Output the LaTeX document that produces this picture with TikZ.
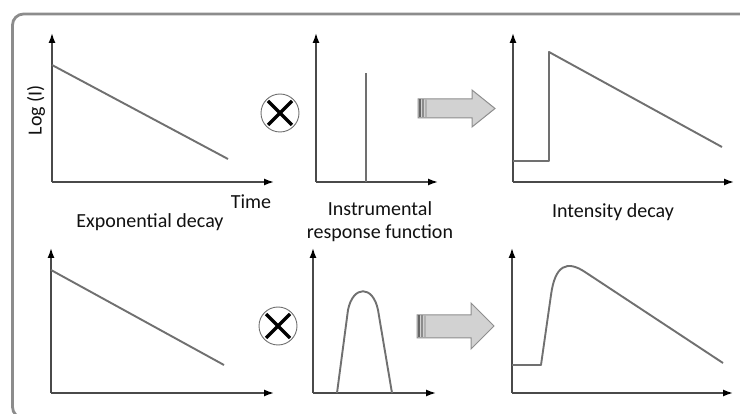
\documentclass[tikz,border=0pt]{standalone}
\usepackage{fontspec}
\setmainfont{Carlito}
\usetikzlibrary{arrows.meta,calc}
\definecolor{framegray}{HTML}{8C8C8C}
\definecolor{axisgray}{HTML}{4A4A4A}
\definecolor{curvegray}{HTML}{707070}
\definecolor{arrowfill}{HTML}{D2D2D2}
\definecolor{arrowline}{HTML}{8E8E8E}
\definecolor{txt}{HTML}{111111}
\tikzset{
  axis/.style={draw=axisgray, line width=1.5pt, -{Latex[length=10pt,width=7pt,color=black]}},
  curve/.style={draw=curvegray, line width=1.9pt, line join=round},
  lbl/.style={font=\fontsize{20}{23}\selectfont, text=txt, inner sep=0pt, align=center},
  framebox/.style={draw=framegray, line width=2.8pt, rounded corners=11pt},
  bigarrow/.style={draw=arrowline, fill=arrowfill, line width=1pt, line join=miter},
  convring/.style={draw=curvegray, line width=0.9pt},
  convx/.style={draw=black, line width=3.4pt}
}
\begin{document}
\begin{tikzpicture}[x=1pt,y=-1pt]
\useasboundingbox (0,0) rectangle (740,414);
\fill[white] (0,0) rectangle (740,414);
\begin{scope}
\clip (0,0) rectangle (740,414);
\draw[framebox] (12.5,14) rectangle (770,418);
\end{scope}

% ---------- top row ----------
% panel 1: exponential decay
\coordinate (o1) at (52,182);
\coordinate (y1) at (52,33);
\coordinate (x1) at (274,182);
\draw[axis] (o1) -- (y1);
\draw[axis] (o1) -- (x1);
\coordinate (a1) at (52,65);
\coordinate (b1) at (228,159);
\draw[curve] (a1) -- (b1);
\node[lbl, rotate=90] (logI) at (36,110) {Log (I)};
\node[lbl] (time) at (251,202) {Time};
\node[lbl] (expdec) at (150,222) {Exponential decay};

% convolution symbol top
\node[circle, minimum size=38pt, inner sep=0pt, convring] (c1) at (280,113) {};
\draw[convx] ($(c1.center)+(-12,-12)$) -- ($(c1.center)+(12,12)$);
\draw[convx] ($(c1.center)+(-12,12)$) -- ($(c1.center)+(12,-12)$);

% panel 2: IRF (delta)
\coordinate (o2) at (316,182);
\draw[axis] (o2) -- (316,33);
\draw[axis] (o2) -- (438,182);
\draw[curve] (366,182) -- (366,73);
\node[lbl] (irf) at (380,222) {Instrumental\\response function};

% big arrow top
\draw[bigarrow] (418,99) -- (472,99) -- (472,90) -- (495,108.5) -- (472,127) -- (472,118) -- (418,118) -- cycle;
\fill[black!60] (418.5,99.5) rectangle (421,117.5);
\fill[black!45] (422,99.5) rectangle (424,117.5);
\fill[black!30] (425,99.5) rectangle (427,117.5);

% panel 3: intensity decay
\coordinate (o3) at (513,182);
\draw[axis] (o3) -- (513,33);
\draw[axis] (o3) -- (734,182);
\draw[curve] (513,161) -- (549,161) -- (549,52) -- (722,147);
\node[lbl] (intdec) at (613,212) {Intensity decay};

% ---------- bottom row ----------
% panel 4
\coordinate (o4) at (51,393);
\draw[axis] (o4) -- (51,248);
\draw[axis] (o4) -- (274,393);
\draw[curve] (51,270) -- (224,365);

% convolution symbol bottom
\node[circle, minimum size=38pt, inner sep=0pt, convring] (c2) at (278,326) {};
\draw[convx] ($(c2.center)+(-12,-12)$) -- ($(c2.center)+(12,12)$);
\draw[convx] ($(c2.center)+(-12,12)$) -- ($(c2.center)+(12,-12)$);

% panel 5: IRF (bell)
\coordinate (o5) at (313,393);
\draw[axis] (o5) -- (313,248);
\draw[axis] (o5) -- (436,393);
\draw[curve] (337,393) -- (348,310) .. controls (353,285) and (373,285) .. (378,310) -- (392,393);

% big arrow bottom
\draw[bigarrow] (417,315) -- (471,315) -- (471,303) -- (494,326) -- (471,349) -- (471,338) -- (417,338) -- cycle;
\fill[black!60] (417.5,315.5) rectangle (420,337.5);
\fill[black!45] (421,315.5) rectangle (423,337.5);
\fill[black!30] (424,315.5) rectangle (426,337.5);

% panel 6: measured decay
\coordinate (o6) at (512,393);
\draw[axis] (o6) -- (512,248);
\draw[axis] (o6) -- (733,393);
\draw[curve] (512,365) -- (541,365) -- (551,295) .. controls (555,265) and (567,260) .. (585,272) -- (723,363);
\end{tikzpicture}
\end{document}
